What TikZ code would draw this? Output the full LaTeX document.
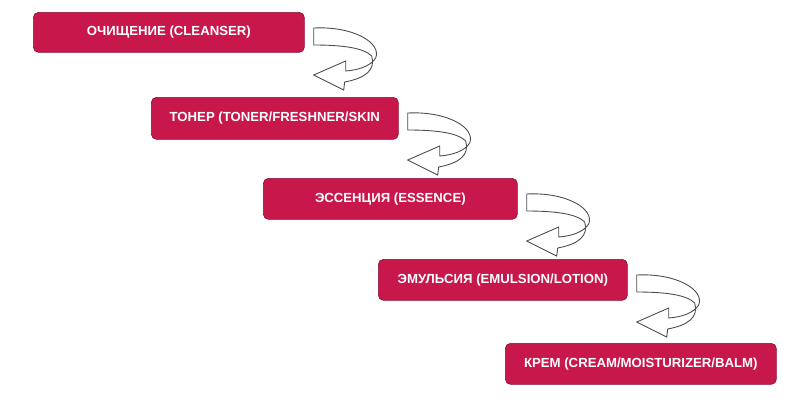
\documentclass[tikz,border=0pt]{standalone}
\usepackage{fontspec}
\setmainfont{Liberation Sans}
\usetikzlibrary{calc}
\definecolor{crimson}{HTML}{C8174B}
\tikzset{
  stage/.style={draw=crimson!70!black, fill=crimson, rounded corners=3pt, text=white,
    font=\fontsize{7.5}{9}\selectfont\bfseries, anchor=north west, inner sep=0pt},
  turn/.pic={
    \draw[black!70, fill=white, line width=0.5pt]
      (0,0) .. controls (40,-2) and (68,15) .. (62,30)
      .. controls (57,38) and (45,42) .. (32,43) -- (32,33) -- (0,47) -- (30,62) -- (31,54)
      .. controls (52,50) and (62,42) .. (58,28)
      .. controls (50,20) and (30,17) .. (0,17) -- cycle;
  }
}
\begin{document}
\begin{tikzpicture}[x=0.02cm, y=-0.02cm]
  \useasboundingbox (0,0) rectangle (800,400);
  \node[stage, minimum width=271*0.02cm, minimum height=40*0.02cm] (b1) at (33,12) {ОЧИЩЕНИЕ (CLEANSER)};
  \node[stage, minimum width=247*0.02cm, minimum height=42*0.02cm] (b2) at (151,97) {ТОНЕР (TONER/FRESHNER/SKIN};
  \node[stage, minimum width=254*0.02cm, minimum height=41*0.02cm] (b3) at (263,178) {ЭССЕНЦИЯ (ESSENCE)};
  \node[stage, minimum width=249*0.02cm, minimum height=41*0.02cm] (b4) at (378,259) {ЭМУЛЬСИЯ (EMULSION/LOTION)};
  \node[stage, minimum width=271*0.02cm, minimum height=41*0.02cm] (b5) at (505,343) {КРЕМ (CREAM/MOISTURIZER/BALM)};

  \foreach \i in {1,...,4}
    \pic at ($(b\i.north east)+(9,16)$) {turn};
\end{tikzpicture}
\end{document}
